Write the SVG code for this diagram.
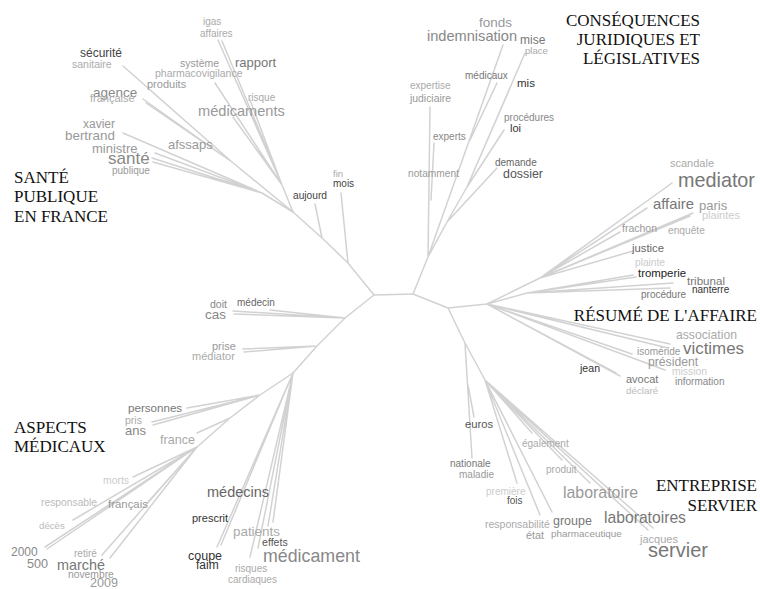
<svg xmlns="http://www.w3.org/2000/svg" width="760" height="589" viewBox="0 0 760 589">
<style>
text{font-family:"Liberation Sans",Arial,sans-serif}
.t{font-family:"Liberation Serif","Times New Roman",serif;font-size:17px;fill:#111}
#connectors path{stroke:#d2d2d2;stroke-width:1.5;fill:none;stroke-linecap:round}
</style>
<rect width="760" height="589" fill="#fff"/>
<g id="connectors">
<path d="M374,295 L413,294"/>
<path d="M374,295 L348,263 M348,263 L341,193 M348,263 L322,238 M322,238 L315,204 M322,238 L293,212"/>
<path d="M293,212 L262,193 M262,193 L123,133 M262,193 L155,153 M262,193 L153,162 M262,193 L152,158"/>
<path d="M293,212 L232,162 M232,162 L123,66 M232,162 L143,99 M232,162 L146,103 M232,162 L150,90"/>
<path d="M293,212 L282,185 M282,185 L218,40 M282,185 L222,41 M282,185 L250,100 M282,185 L215,83 M282,185 L233,117"/>
<path d="M374,295 L345,318 M345,318 L233,311 M345,318 L234,314 M345,318 L270,310 M345,318 L317,346 M317,346 L243,349 M317,346 L244,352 M317,346 L293,373"/>
<path d="M293,373 L260,395 M260,395 L187,408 M260,395 L152,422 M260,395 L153,425 M260,395 L230,418 M230,418 L197,433 M230,418 L197,447"/>
<path d="M197,447 L133,477 M197,447 L73,520 M197,447 L45,547 M197,447 L47,549 M197,447 L148,502 M197,447 L102,555 M197,447 L110,558"/>
<path d="M293,373 L217,547 M293,373 L221,545 M293,373 L250,557 M293,373 L258,548 M293,373 L273,522 M293,373 L268,526"/>
<path d="M413,294 L428,257 M428,257 L430,107 M431,200 L434,143 M428,257 L447,222 M447,222 L497,168 M447,222 L467,187 M467,187 L504,130 M467,187 L525,53 M467,187 L510,88 M428,257 L503,45 M470,140 L497,83"/>
<path d="M413,294 L448,308 M448,308 L487,304 M487,304 L540,278 M540,278 L672,183 M540,278 L647,208 M540,278 L693,213 M540,278 L690,216 M540,278 L620,232 M540,278 L633,251"/>
<path d="M487,304 L527,293 M527,293 L633,275 M527,293 L636,277 M527,293 L673,283 M527,293 L670,288"/>
<path d="M487,304 L670,344 M487,304 L668,348 M487,304 L632,354 M487,304 L665,370 M487,304 L620,376 M487,304 L616,373"/>
<path d="M448,308 L465,343 M465,343 L472,458 M468,385 L474,417 M465,343 L485,380 M485,380 L517,483 M485,380 L540,515 M485,380 L552,512 M485,380 L532,433 M485,380 L562,460 M485,380 L590,483 M485,380 L653,528 M485,380 L648,530"/>
</g>
<g id="titles">
<g id="title-sante"><text class="t" x="14" y="183">SANTÉ</text><text class="t" x="14" y="202">PUBLIQUE</text><text class="t" x="14" y="222">EN FRANCE</text></g>
<g id="title-consequences"><text class="t" x="700" y="26" text-anchor="end">CONSÉQUENCES</text><text class="t" x="700" y="45" text-anchor="end">JURIDIQUES ET</text><text class="t" x="700" y="64" text-anchor="end">LÉGISLATIVES</text></g>
<g id="title-resume"><text class="t" x="757" y="321" text-anchor="end">RÉSUMÉ DE L'AFFAIRE</text></g>
<g id="title-aspects"><text class="t" x="14" y="433">ASPECTS</text><text class="t" x="14" y="452">MÉDICAUX</text></g>
<g id="title-entreprise"><text class="t" x="757" y="491" text-anchor="end">ENTREPRISE</text><text class="t" x="757" y="511" text-anchor="end">SERVIER</text></g>
</g>
<g id="n-igas"><text x="203" y="25" font-size="10" fill="#aaa">igas</text><text x="200" y="37" font-size="10" fill="#aaa">affaires</text></g>
<g id="n-securite"><text x="80" y="57" font-size="12" fill="#444">sécurité</text><text x="72" y="68" font-size="10.5" fill="#aaa">sanitaire</text></g>
<g id="n-systeme"><text x="180" y="67" font-size="10.5" fill="#999">système</text><text x="155" y="77" font-size="10.5" fill="#aaa">pharmacovigilance</text></g>
<g id="n-rapport"><text x="235" y="67" font-size="13" fill="#777">rapport</text><text x="248" y="101" font-size="10" fill="#aaa">risque</text></g>
<g id="n-produits"><text x="147" y="88" font-size="11" fill="#999">produits</text></g>
<g id="n-agence"><text x="93" y="97" font-size="13.5" fill="#888">agence</text><text x="90" y="102" font-size="11" fill="#aaa">française</text></g>
<g id="n-medicaments"><text x="198" y="116" font-size="14.6" fill="#999">médicaments</text></g>
<g id="n-bertrand"><text x="83" y="128" font-size="12" fill="#999">xavier</text><text x="65" y="140" font-size="13.4" fill="#999">bertrand</text></g>
<g id="n-afssaps"><text x="168" y="149" font-size="13" fill="#999">afssaps</text></g>
<g id="n-ministre"><text x="92" y="153" font-size="13" fill="#999">ministre</text></g>
<g id="n-sante"><text x="108" y="164" font-size="17" fill="#888">santé</text><text x="112" y="174" font-size="10" fill="#999">publique</text></g>
<g id="n-mois"><text x="333" y="177" font-size="9.5" fill="#aaa">fin</text><text x="333" y="187" font-size="10" fill="#444">mois</text></g>
<g id="n-aujourd"><text x="293" y="199" font-size="10.2" fill="#444">aujourd</text></g>
<g id="n-fonds"><text x="479" y="27" font-size="13.5" fill="#999">fonds</text><text x="427" y="41" font-size="14.6" fill="#888">indemnisation</text></g>
<g id="n-mise"><text x="520" y="44" font-size="12" fill="#777">mise</text><text x="525" y="54" font-size="9.6" fill="#aaa">place</text></g>
<g id="n-medicaux"><text x="465" y="79" font-size="10" fill="#777">médicaux</text></g>
<g id="n-mis"><text x="517" y="87" font-size="11.5" fill="#333">mis</text></g>
<g id="n-expertise"><text x="410" y="89" font-size="10" fill="#aaa">expertise</text><text x="410" y="102" font-size="10.4" fill="#999">judiciaire</text></g>
<g id="n-loi"><text x="504" y="121" font-size="10" fill="#888">procédures</text><text x="510" y="132" font-size="11" fill="#333">loi</text></g>
<g id="n-experts"><text x="433" y="140" font-size="10" fill="#888">experts</text></g>
<g id="n-dossier"><text x="495" y="166" font-size="10" fill="#666">demande</text><text x="503" y="178" font-size="12.4" fill="#555">dossier</text></g>
<g id="n-notamment"><text x="408" y="177" font-size="10.2" fill="#999">notamment</text></g>
<g id="n-mediator"><text x="670" y="167" font-size="11" fill="#aaa">scandale</text><text x="678" y="187" font-size="19.8" fill="#777">mediator</text></g>
<g id="n-affaire"><text x="653" y="209" font-size="14.8" fill="#777">affaire</text></g>
<g id="n-paris"><text x="699" y="210" font-size="13" fill="#999">paris</text><text x="702" y="219" font-size="11" fill="#ccc">plaintes</text></g>
<g id="n-frachon"><text x="622" y="232" font-size="10.5" fill="#999">frachon</text></g>
<g id="n-enquete"><text x="668" y="234" font-size="10.2" fill="#aaa">enquête</text></g>
<g id="n-justice"><text x="632" y="252" font-size="11.3" fill="#666">justice</text></g>
<g id="n-tromperie"><text x="635" y="266" font-size="10.2" fill="#ccc">plainte</text><text x="638" y="277" font-size="11.4" fill="#222">tromperie</text></g>
<g id="n-tribunal"><text x="687" y="285" font-size="11.6" fill="#777">tribunal</text><text x="692" y="293" font-size="10" fill="#333">nanterre</text></g>
<g id="n-procedure"><text x="641" y="298" font-size="10" fill="#777">procédure</text></g>
<g id="n-cas"><text x="210" y="308" font-size="10.5" fill="#888">doit</text><text x="205" y="319" font-size="13.5" fill="#888">cas</text></g>
<g id="n-medecin"><text x="237" y="306" font-size="10" fill="#666">médecin</text></g>
<g id="n-prise"><text x="212" y="350" font-size="11" fill="#999">prise</text><text x="192" y="360" font-size="11" fill="#aaa">médiator</text></g>
<g id="n-personnes"><text x="128" y="412" font-size="11.6" fill="#777">personnes</text></g>
<g id="n-ans"><text x="125" y="424" font-size="10.5" fill="#aaa">pris</text><text x="125" y="435" font-size="13" fill="#888">ans</text></g>
<g id="n-france"><text x="160" y="444" font-size="12.6" fill="#aaa">france</text></g>
<g id="n-morts"><text x="103" y="484" font-size="10.4" fill="#ccc">morts</text></g>
<g id="n-responsable"><text x="41" y="506" font-size="10.3" fill="#bbb">responsable</text><text x="39" y="529" font-size="9.7" fill="#bbb">décès</text></g>
<g id="n-francais"><text x="108" y="508" font-size="11.4" fill="#999">français</text></g>
<g id="n-2000"><text x="11" y="556" font-size="12" fill="#888">2000</text><text x="27" y="568" font-size="12.6" fill="#888">500</text></g>
<g id="n-marche"><text x="74" y="557" font-size="10" fill="#aaa">retiré</text><text x="57" y="570" font-size="14.4" fill="#777">marché</text><text x="68" y="578" font-size="10.3" fill="#999">novembre</text><text x="90" y="587" font-size="12.6" fill="#999">2009</text></g>
<g id="n-medecins"><text x="207" y="497" font-size="14.5" fill="#666">médecins</text></g>
<g id="n-prescrit"><text x="192" y="522" font-size="11" fill="#333">prescrit</text></g>
<g id="n-coupe"><text x="188" y="560" font-size="12.5" fill="#333">coupe</text><text x="196" y="569" font-size="12" fill="#333">faim</text></g>
<g id="n-patients"><text x="233" y="536" font-size="13.4" fill="#aaa">patients</text></g>
<g id="n-effets"><text x="262" y="546" font-size="10.6" fill="#555">effets</text></g>
<g id="n-medicament"><text x="263" y="562" font-size="17.8" fill="#888">médicament</text></g>
<g id="n-risques"><text x="235" y="572" font-size="10" fill="#aaa">risques</text><text x="228" y="583" font-size="10" fill="#aaa">cardiaques</text></g>
<g id="n-victimes"><text x="676" y="339" font-size="12.2" fill="#aaa">association</text><text x="683" y="354" font-size="16.9" fill="#777">victimes</text></g>
<g id="n-isomeride"><text x="637" y="355" font-size="10" fill="#999">isoméride</text></g>
<g id="n-president"><text x="648" y="366" font-size="12.2" fill="#999">président</text></g>
<g id="n-mission"><text x="672" y="375" font-size="10.3" fill="#ccc">mission</text><text x="675" y="385" font-size="10" fill="#888">information</text></g>
<g id="n-jean"><text x="580" y="372" font-size="10.6" fill="#333">jean</text></g>
<g id="n-avocat"><text x="626" y="383" font-size="11" fill="#777">avocat</text><text x="626" y="394" font-size="9.8" fill="#bbb">déclaré</text></g>
<g id="n-euros"><text x="465" y="428" font-size="11.2" fill="#555">euros</text></g>
<g id="n-nationale"><text x="450" y="467" font-size="10" fill="#777">nationale</text><text x="459" y="478" font-size="10" fill="#999">maladie</text></g>
<g id="n-egalement"><text x="522" y="447" font-size="10" fill="#aaa">également</text></g>
<g id="n-produit"><text x="546" y="473" font-size="10" fill="#aaa">produit</text></g>
<g id="n-laboratoire"><text x="563" y="498" font-size="15.9" fill="#999">laboratoire</text></g>
<g id="n-fois"><text x="486" y="495" font-size="10" fill="#ccc">première</text><text x="507" y="504" font-size="10" fill="#555">fois</text></g>
<g id="n-etat"><text x="485" y="528" font-size="10.5" fill="#aaa">responsabilité</text><text x="526" y="539" font-size="10.8" fill="#999">état</text></g>
<g id="n-groupe"><text x="553" y="525" font-size="12.5" fill="#777">groupe</text><text x="551" y="537" font-size="9.9" fill="#999">pharmaceutique</text></g>
<g id="n-laboratoires"><text x="604" y="523" font-size="15.7" fill="#777">laboratoires</text></g>
<g id="n-servier"><text x="640" y="543" font-size="11" fill="#aaa">jacques</text><text x="648" y="557" font-size="20" fill="#777">servier</text></g>
</svg>
